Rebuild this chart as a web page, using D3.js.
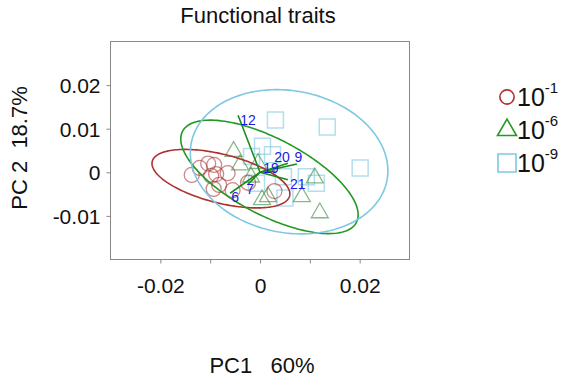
<!DOCTYPE html>
<html>
<head>
<meta charset="utf-8">
<script src="https://cdn.jsdelivr.net/npm/d3@7"></script>
<style>
  body { margin: 0; background: #fff; }
  svg { font-family: "Liberation Sans", Arial, sans-serif; }
</style>
</head>
<body>
<div class="chart"></div>
<script>
// PCA scores per group (PC1, PC2)
var circlePts = [
  [-0.0137, -0.0006], [-0.0121, 0.0010], [-0.0104, 0.0020], [-0.0092, 0.0017],
  [-0.0098, -0.0008], [-0.0088, -0.0004], [-0.0065, -0.0002], [-0.0093, -0.0038],
  [-0.0082, -0.0029], [-0.0055, -0.0041], [-0.0024, -0.0024], [0.0029, -0.0043]
];
var trianglePts = [
  [-0.0053, 0.0048], [-0.0040, 0.0017], [-0.0004, 0.0020], [-0.0018, -0.0011],
  [0.0004, -0.0063], [0.0016, -0.0056], [0.0084, -0.0056], [0.0110, -0.0013],
  [0.0120, -0.0093]
];
var squarePts = [
  [0.0031, 0.0120], [0.0135, 0.0104], [0.0005, 0.0060], [0.0201, 0.0010],
  [-0.0017, 0.0036], [0.0025, 0.0040], [0.0093, -0.0010], [0.0113, -0.0025],
  [0.0050, -0.0059], [-0.0007, -0.0025], [0.0047, -0.0010]
];

// ellipses: centre and two conjugate semi-axes, PC units
var ellipseCentres = [[-0.00784, -0.00146], [0.0019, -0.00105], [0.00584, 0.00242]];
var ellipseAxisU = [[0.01378, -0.00397], [0.01744, -0.01046], [0.01964, -0.00427]];
var ellipseAxisV = [[-0.0012, -0.00541], [-0.00356, -0.00774], [-0.00268, -0.01598]];

// fitted trait vectors
var vectorNames = ["12", "6", "7", "9", "20", "21", "19"];
var vectorTips = [
  [-0.0044, 0.0131], [-0.0060, -0.0048], [-0.0024, -0.0027], [0.0074, 0.0019],
  [0.0056, 0.0021], [0.0056, -0.0017], [0.0030, 0.0003]
];
var vectorLabels = [
  [-0.0024, 0.0120], [-0.0050, -0.0058], [-0.0020, -0.0039], [0.0077, 0.0035],
  [0.0044, 0.0035], [0.0076, -0.0027], [0.0022, 0.0010]
];

var legendExps = ["-1", "-6", "-9"];
var xTicks = [-0.02, -0.01, 0, 0.01, 0.02];
var xTickLabels = ["-0.02", "", "0", "", "0.02"];
var yTicks = [0.02, 0.01, 0, -0.01];
var yTickLabels = ["0.02", "0.01", "0", "-0.01"];

var width = 564, height = 380;
var red = "#b03030", green = "#229922", blue = "#7ec8e3";

var svg = d3.select(".chart").append("svg")
  .attr("width", width)
  .attr("height", height);

var x = d3.scaleLinear().domain([-0.03, 0.03]).range([110.5, 409.5]);
var y = d3.scaleLinear().domain([-0.02, 0.03]).range([259.5, 41.5]);

// axes
var xAxis = d3.axisBottom(x).tickValues(xTicks).tickSize(4)
  .tickFormat(function (d, i) { return xTickLabels[i]; });
var yAxis = d3.axisLeft(y).tickValues(yTicks).tickSize(4)
  .tickFormat(function (d, i) { return yTickLabels[i]; });

var gx = svg.append("g").attr("transform", "translate(0," + y.range()[0] + ")").call(xAxis);
var gy = svg.append("g").attr("transform", "translate(" + x.range()[0] + ",0)").call(yAxis);
[gx, gy].forEach(function (g) {
  g.select(".domain").remove();
  g.selectAll("line").attr("stroke", "#888");
  g.selectAll("text").attr("fill", "#111").style("font-size", "21px")
    .style("font-family", "Liberation Sans, Arial, sans-serif");
});
gx.selectAll("text").attr("dy", "1.25em");
gy.selectAll("text").attr("x", -10).attr("dy", "0.35em");

// frame
svg.append("rect")
  .attr("x", x.range()[0]).attr("y", y.range()[1])
  .attr("width", x.range()[1] - x.range()[0])
  .attr("height", y.range()[0] - y.range()[1])
  .attr("fill", "none").attr("stroke", "#888");

var plot = svg.append("g");

// points
plot.selectAll(".sq").data(squarePts).join("path")
  .attr("d", d3.symbol(d3.symbolSquare, 256))
  .attr("transform", function (d) { return "translate(" + x(d[0]) + "," + y(d[1]) + ")"; })
  .attr("fill", "none").attr("stroke", blue).attr("stroke-opacity", 0.6).attr("stroke-width", 1.5);

plot.selectAll(".tri").data(trianglePts).join("path")
  .attr("d", d3.symbol(d3.symbolTriangle, 125))
  .attr("transform", function (d) { return "translate(" + x(d[0]) + "," + y(d[1]) + ")"; })
  .attr("fill", "none").attr("stroke", "#3a8a3a").attr("stroke-opacity", 0.6).attr("stroke-width", 1.3);

plot.selectAll(".circ").data(circlePts).join("circle")
  .attr("cx", function (d) { return x(d[0]); })
  .attr("cy", function (d) { return y(d[1]); })
  .attr("r", 7.5)
  .attr("fill", "none").attr("stroke", "#a83838").attr("stroke-opacity", 0.6).attr("stroke-width", 1.3);

// ellipses
var ellColours = [red, green, blue];
var angles = d3.range(0, 2 * Math.PI, Math.PI / 90);
var ellLine = d3.line().curve(d3.curveLinearClosed);
ellipseCentres.forEach(function (c, i) {
  var u = ellipseAxisU[i], v = ellipseAxisV[i];
  var pts = angles.map(function (t) {
    return [x(c[0] + u[0] * Math.cos(t) + v[0] * Math.sin(t)),
            y(c[1] + u[1] * Math.cos(t) + v[1] * Math.sin(t))];
  });
  plot.append("path").attr("d", ellLine(pts))
    .attr("fill", "none").attr("stroke", ellColours[i]).attr("stroke-width", 1.6);
});

// trait vectors
plot.selectAll(".vec").data(vectorTips).join("line")
  .attr("x1", x(0)).attr("y1", y(0))
  .attr("x2", function (d) { return x(d[0]); })
  .attr("y2", function (d) { return y(d[1]); })
  .attr("stroke", "#1a8a1a").attr("stroke-width", 1.6);

plot.selectAll(".vlab").data(vectorLabels).join("text")
  .attr("x", function (d) { return x(d[0]); })
  .attr("y", function (d) { return y(d[1]); })
  .attr("text-anchor", "middle").attr("dy", "0.35em")
  .style("font-size", "14px").attr("fill", "#1a1ae6")
  .text(function (d, i) { return vectorNames[i]; });

// titles
svg.append("text").attr("x", 258).attr("y", 23).attr("text-anchor", "middle")
  .style("font-size", "22px").attr("fill", "#111").text("Functional traits");

svg.append("text").attr("x", 262).attr("y", 373).attr("text-anchor", "middle")
  .style("font-size", "22px").style("white-space", "pre").attr("fill", "#111")
  .text("PC1   60%");

svg.append("text").attr("transform", "translate(27,148) rotate(-90)")
  .attr("text-anchor", "middle")
  .style("font-size", "22px").style("white-space", "pre").attr("fill", "#111")
  .text("PC 2  18.7%");

// legend
var legendSymbols = [d3.symbolCircle, d3.symbolTriangle, d3.symbolSquare];
var legendSizes = [160, 156, 324];
var legend = svg.append("g");
legendExps.forEach(function (e, i) {
  var cy = 97 + i * 33;
  legend.append("path")
    .attr("d", d3.symbol(legendSymbols[i], legendSizes[i]))
    .attr("transform", "translate(507," + cy + ")")
    .attr("fill", "none").attr("stroke", ellColours[i]).attr("stroke-width", 1.6);
  var t = legend.append("text").attr("x", 517).attr("y", cy + 9)
    .style("font-size", "25px").attr("fill", "#111");
  t.append("tspan").text("10");
  t.append("tspan").attr("dy", -13).style("font-size", "15px").text(e);
});
</script>
</body>
</html>
